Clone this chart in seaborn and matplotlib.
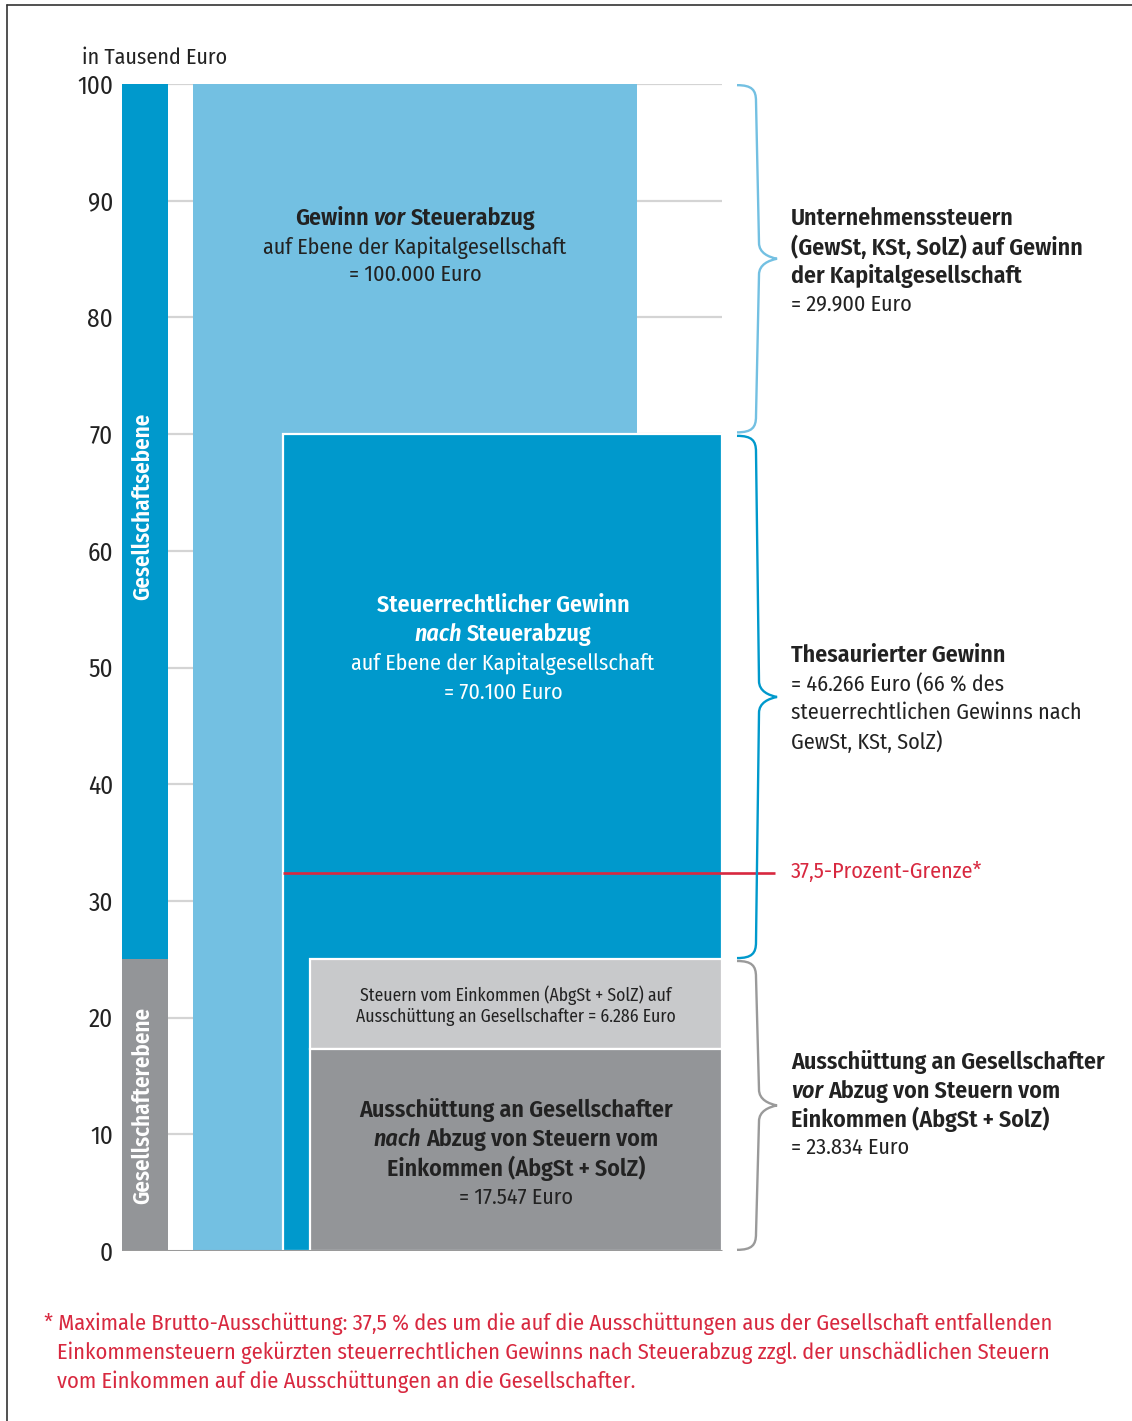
import numpy as np
import pandas as pd
import matplotlib
matplotlib.use("Agg")
import matplotlib.pyplot as plt
import seaborn as sns
from matplotlib.path import Path
from matplotlib.patches import PathPatch

# ---------------- data (in thousand euro) -------------
y_ticks = [0, 10, 20, 30, 40, 50, 60, 70, 80, 90, 100]
level_labels = ["Gesellschafterebene", "Gesellschaftsebene"]
level_bottoms = [0, 25]
level_heights = [25, 75]
gewinn_vor = 100          # Gewinn vor Steuerabzug
gewinn_nach = 70          # steuerrechtlicher Gewinn nach Steuerabzug (70.100)
aussch_nach = 17.3        # Ausschuettung nach Steuern (17.547)
aussch_vor = 25           # Ausschuettung vor Steuern (as drawn)
grenze = 32.4             # 37,5-Prozent-Grenze

BLUE = "#0099cc"
LBLUE = "#73c0e2"
GRAY = "#939598"
LGRAY = "#c8c9cb"
RED = "#d8283f"
DARK = "#222222"

sns.set_theme(style="white")
plt.rcParams["font.family"] = ["Fira Sans Condensed", "Liberation Sans Narrow", "Roboto", "DejaVu Sans"]

W, H = 1132, 1421
fig = plt.figure(figsize=(W / 100, H / 100), dpi=100)

# ---------------- overlay for text (pixel coordinates) ----------------
ov = fig.add_axes([0, 0, 1, 1], zorder=5)
ov.set_xlim(0, W)
ov.set_ylim(H, 0)
ov.axis("off")
renderer = fig.canvas.get_renderer()

B = "semibold"


def width_of(t, size, weight="normal", style="normal"):
    tt = ov.text(0, 0, t, fontsize=size, fontweight=weight, fontstyle=style)
    w = tt.get_window_extent(renderer).width
    tt.remove()
    return w


def fit(t, target, weight="normal"):
    return 15 * target / width_of(t, 15, weight)


FS_R = fit("auf Ebene der Kapitalgesellschaft", 303)
FS_B = fit("(GewSt, KSt, SolZ) auf Gewinn", 292, B)
FS_S = fit("Ausschüttung an Gesellschafter = 6.286 Euro", 319)
FS_F = fit("* Maximale Brutto-Ausschüttung: 37,5 % des um die auf die Ausschüttungen aus der Gesellschaft entfallenden", 1006)
FS_T = fit("100", 36)
FS_L = fit("Gesellschaftsebene", 188, B)

# ---------------- main axes ----------------
Y0, Y100 = 1251, 84
PX = (Y0 - Y100) / 100.0
ax = fig.add_axes([122 / W, (H - Y0) / H, (W - 122) / W, (Y0 - Y100) / H], zorder=1)
ax.set_xlim(122, W)
ax.set_ylim(0, 100)
sns.despine(ax=ax, left=True, bottom=True)
ax.set_facecolor("none")
ax.grid(False)
ax.set_xticks([])
ax.set_yticks(y_ticks)
ax.set_yticklabels([str(t) for t in y_ticks])
ax.tick_params(axis="y", length=0, pad=6.5, labelsize=FS_T, labelcolor=DARK)
for lab in ax.get_yticklabels():
    lab.set_verticalalignment("center_baseline")

# grid lines
ax.hlines(y_ticks[1:], 122, 722, color="#d4d4d4", lw=1.6, zorder=0)

# left level bar
ax.bar(145, level_heights, bottom=level_bottoms, width=46, color=[GRAY, BLUE], lw=0, zorder=2)
# Gewinn vor Steuerabzug
ax.bar(193, gewinn_vor, width=444, align="edge", color=LBLUE, lw=0, zorder=2)
# Gewinn nach Steuerabzug
ax.bar(283, gewinn_nach, width=439, align="edge", color=BLUE, edgecolor="white", lw=1.6, zorder=3)
# Ausschuettung boxes
ax.bar(310, aussch_vor - aussch_nach, bottom=aussch_nach, width=412, align="edge",
       color=LGRAY, edgecolor="white", lw=1.6, zorder=4)
ax.bar(310, aussch_nach, width=412, align="edge", color=GRAY, edgecolor="white", lw=1.6, zorder=4)
# base line
ax.hlines(0, 122, 722, color="#9a9a9a", lw=2.2, zorder=6)
# red limit line
ax.hlines(grenze, 283, 775, color=RED, lw=1.9, zorder=7, clip_on=False)


def brace(ytop, ybot, color):
    x0, x1, xm = 737, 756, 777
    r = 16 / PX
    ym = (ytop + ybot) / 2
    verts = [(x0, ytop), (x1 - 4, ytop), (x1, ytop - 0.3 * r), (x1, ytop - r),
             (x1 + 3, ym + r),
             (x1 + 3, ym + 0.35 * r), (xm - 8, ym + 0.1 * r), (xm, ym),
             (xm - 8, ym - 0.1 * r), (x1 + 3, ym - 0.35 * r), (x1 + 3, ym - r),
             (x1, ybot + r),
             (x1, ybot + 0.3 * r), (x1 - 4, ybot), (x0, ybot)]
    codes = [Path.MOVETO, Path.CURVE4, Path.CURVE4, Path.CURVE4,
             Path.LINETO,
             Path.CURVE4, Path.CURVE4, Path.CURVE4,
             Path.CURVE4, Path.CURVE4, Path.CURVE4,
             Path.LINETO,
             Path.CURVE4, Path.CURVE4, Path.CURVE4]
    ax.add_patch(PathPatch(Path(verts, codes), fc="none", ec=color, lw=1.7,
                           clip_on=False, zorder=8))


brace(gewinn_vor - 0.1, gewinn_nach + 0.15, LBLUE)
brace(gewinn_nach - 0.15, aussch_vor + 0.1, BLUE)
brace(aussch_vor - 0.15, 0.1, "#9a9a9a")


def seg_line(x, y, segs, size, color, ha="left"):
    segs = [(s, "normal", "normal") if isinstance(s, str) else s for s in segs]
    widths = [width_of(t, size, w, s) for t, w, s in segs]
    sp = width_of("a a", size, segs[0][1]) - width_of("aa", size, segs[0][1])
    total = sum(widths) + sp * (len(segs) - 1)
    cur = x - total / 2 if ha == "center" else x
    for (t, w, s), wd in zip(segs, widths):
        ov.text(cur, y - 1, t, fontsize=size, fontweight=w, fontstyle=s, color=color,
                ha="left", va="center_baseline")
        cur += wd + sp


# frame
ov.plot([7, 7], [5, H], color="#333333", lw=1.2)
ov.plot([7, W], [5, 5], color="#333333", lw=1.2)

seg_line(82, 57, ["in Tausend Euro"], FS_R, DARK)

# level labels
ov.text(143, 506, level_labels[1], rotation=90, fontsize=FS_L, fontweight=B,
        color="white", ha="center", va="center")
ov.text(143, 1105, level_labels[0], rotation=90, fontsize=FS_L, fontweight=B,
        color="white", ha="center", va="center")

# light blue box
cx = 415
seg_line(cx, 217, [("Gewinn", B, "normal"), ("vor", B, "italic"), ("Steuerabzug", B, "normal")], FS_B, DARK, "center")
seg_line(cx, 246, ["auf Ebene der Kapitalgesellschaft"], FS_R, DARK, "center")
seg_line(cx, 274, ["= 100.000 Euro"], FS_R, DARK, "center")

# dark blue box
cx = 503
seg_line(cx, 604, [("Steuerrechtlicher Gewinn", B, "normal")], FS_B, "white", "center")
seg_line(cx, 633, [("nach", B, "italic"), ("Steuerabzug", B, "normal")], FS_B, "white", "center")
seg_line(cx, 662, ["auf Ebene der Kapitalgesellschaft"], FS_R, "white", "center")
seg_line(cx, 691, ["= 70.100 Euro"], FS_R, "white", "center")

# light gray box
cx = 516
seg_line(cx, 994, ["Steuern vom Einkommen (AbgSt + SolZ) auf"], FS_S, DARK, "center")
seg_line(cx, 1016, ["Ausschüttung an Gesellschafter = 6.286 Euro"], FS_S, DARK, "center")

# dark gray box
seg_line(cx, 1109, [("Ausschüttung an Gesellschafter", B, "normal")], FS_B, DARK, "center")
seg_line(cx, 1138, [("nach", B, "italic"), ("Abzug von Steuern vom", B, "normal")], FS_B, DARK, "center")
seg_line(cx, 1167, [("Einkommen (AbgSt + SolZ)", B, "normal")], FS_B, DARK, "center")
seg_line(cx, 1196, ["= 17.547 Euro"], FS_R, DARK, "center")

# right side
rx = 791
seg_line(rx, 217, [("Unternehmenssteuern", B, "normal")], FS_B, DARK)
seg_line(rx, 246, [("(GewSt, KSt, SolZ) auf Gewinn", B, "normal")], FS_B, DARK)
seg_line(rx, 274, [("der Kapitalgesellschaft", B, "normal")], FS_B, DARK)
seg_line(rx, 303, ["= 29.900 Euro"], FS_R, DARK)

seg_line(rx, 654, [("Thesaurierter Gewinn", B, "normal")], FS_B, DARK)
seg_line(rx, 683, ["= 46.266 Euro (66 % des"], FS_R, DARK)
seg_line(rx, 712, ["steuerrechtlichen Gewinns nach"], FS_R, DARK)
seg_line(rx, 741, ["GewSt, KSt, SolZ)"], FS_R, DARK)

seg_line(rx, 871, ["37,5-Prozent-Grenze*"], FS_R, RED)

seg_line(rx, 1061, [("Ausschüttung an Gesellschafter", B, "normal")], FS_B, DARK)
seg_line(rx, 1090, [("vor", B, "italic"), ("Abzug von Steuern vom", B, "normal")], FS_B, DARK)
seg_line(rx, 1118, [("Einkommen (AbgSt + SolZ)", B, "normal")], FS_B, DARK)
seg_line(rx, 1147, ["= 23.834 Euro"], FS_R, DARK)

# footnote
seg_line(44, 1322, ["* Maximale Brutto-Ausschüttung: 37,5 % des um die auf die Ausschüttungen aus der Gesellschaft entfallenden"], FS_F, RED)
seg_line(57, 1351, ["Einkommensteuern gekürzten steuerrechtlichen Gewinns nach Steuerabzug zzgl. der unschädlichen Steuern"], FS_F, RED)
seg_line(57, 1380, ["vom Einkommen auf die Ausschüttungen an die Gesellschafter."], FS_F, RED)

fig.savefig("out.png", dpi=100)
